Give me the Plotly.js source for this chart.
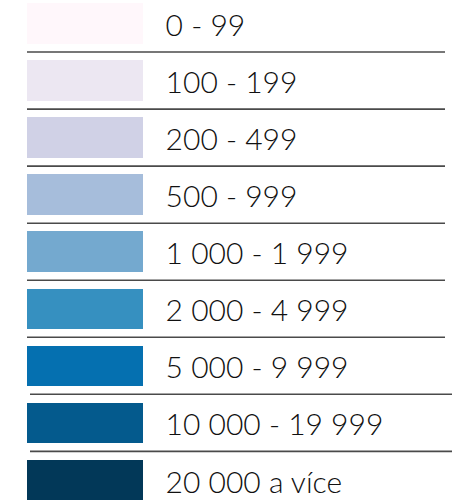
<!DOCTYPE html>
<html>
<head>
<meta charset="utf-8">
<script src="https://cdn.plot.ly/plotly-3.0.1.min.js"></script>
<style>html,body{margin:0;padding:0;background:#fff;}#chart{width:456px;height:503px;}</style>
</head>
<body>
<div id="chart"></div>
<script>
const categories = ["0 - 99", "100 - 199", "200 - 499", "500 - 999", "1 000 - 1 999", "2 000 - 4 999", "5 000 - 9 999", "10 000 - 19 999", "20 000 a více"];
const colors = ["#fff7fb", "#ece7f2", "#d0d1e6", "#a6bddb", "#74a9cf", "#3690c0", "#0570b0", "#045a8d", "#023858"];
const swatchValues = [1, 1, 1, 1, 1, 1, 1, 1, 1];

const ypos = categories.map((c, i) => i);
const labelX = categories.map(() => 1.195);
const labelY = ypos.map(v => v + 0.09);

const bars = {
  type: 'bar', orientation: 'h',
  x: swatchValues, y: ypos,
  width: 0.71,
  marker: {color: colors, line: {width: 0}},
  hoverinfo: 'skip', showlegend: false
};
const labels = {
  type: 'scatter', mode: 'text',
  x: labelX, y: labelY,
  text: categories,
  textposition: 'middle right',
  textfont: {family: 'Lato, sans-serif', size: 30, color: '#111111', weight: 300},
  hoverinfo: 'skip', showlegend: false
};

const shapes = [];
for (let i = 0; i < categories.length - 1; i++) {
  const shifted = i >= 6;
  shapes.push({
    type: 'line', xref: 'paper', yref: 'y',
    x0: shifted ? 30/456 : 27/456, x1: shifted ? 452/456 : 445/456,
    y0: i + 0.5, y1: i + 0.5,
    line: {color: '#4a4a4a', width: 1.6}
  });
}

const layout = {
  width: 456, height: 503,
  margin: {l: 0, r: 0, t: 0, b: 0},
  paper_bgcolor: '#ffffff', plot_bgcolor: '#ffffff',
  xaxis: {range: [-27/116, 429/116], visible: false, fixedrange: true},
  yaxis: {range: [8.405, -0.412], visible: false, fixedrange: true},
  shapes: shapes,
  bargap: 0
};
Plotly.newPlot('chart', [bars, labels], layout, {staticPlot: true});
</script>
</body>
</html>
